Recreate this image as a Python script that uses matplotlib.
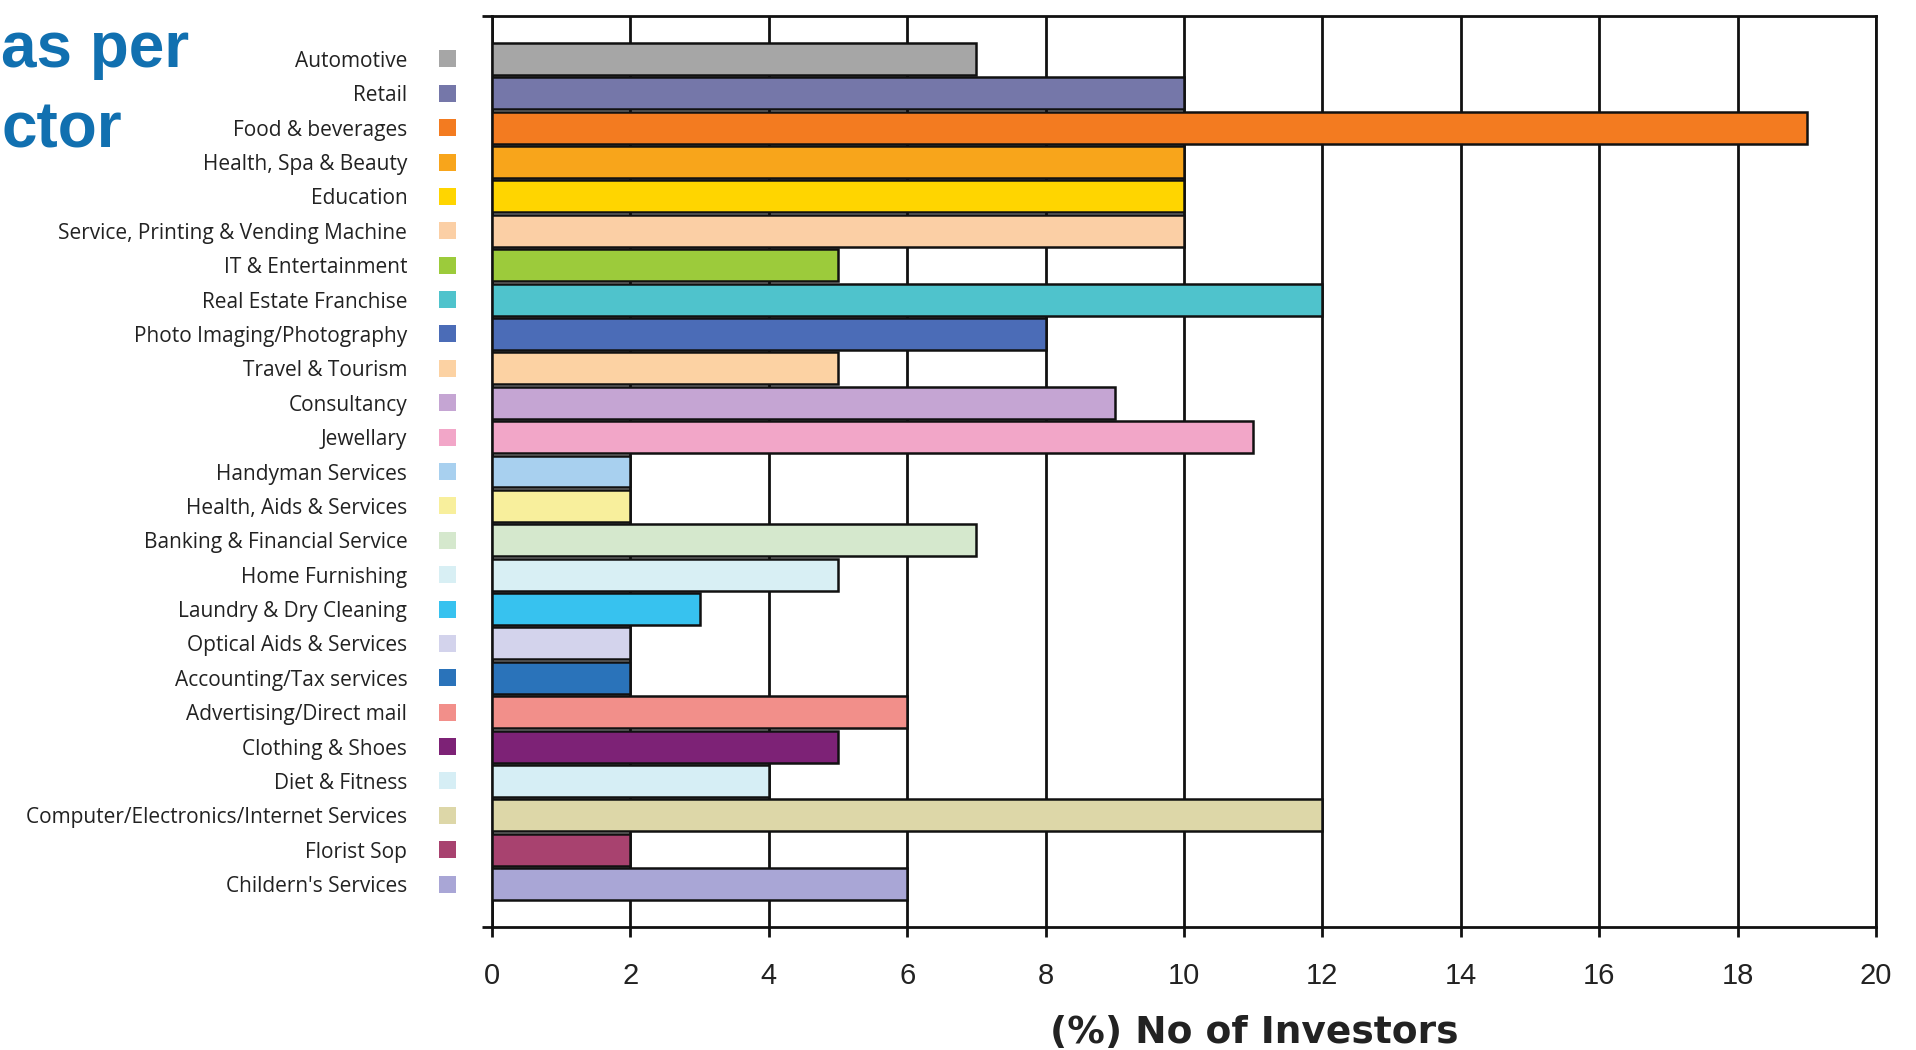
import numpy as np
import matplotlib
matplotlib.use('Agg')
import matplotlib.pyplot as plt

# sectors and share of investors (%)
sectors = ['Automotive', 'Retail', 'Food & beverages', 'Health, Spa & Beauty',
           'Education', 'Service, Printing & Vending Machine', 'IT & Entertainment',
           'Real Estate Franchise', 'Photo Imaging/Photography', 'Travel & Tourism',
           'Consultancy', 'Jewellary', 'Handyman Services', 'Health, Aids & Services',
           'Banking & Financial Service', 'Home Furnishing', 'Laundry & Dry Cleaning',
           'Optical Aids & Services', 'Accounting/Tax services', 'Advertising/Direct mail',
           'Clothing & Shoes', 'Diet & Fitness', 'Computer/Electronics/Internet Services',
           'Florist Sop', "Childern's Services"]
investors = [7, 10, 19, 10, 10, 10, 5, 12, 8, 5, 9, 11, 2, 2, 7, 5, 3, 2, 2, 6, 5, 4, 12, 2, 6]
colors = ['#a6a6a6', '#7577a9', '#f37b20', '#f8a51b', '#ffd500', '#fbcfa5', '#9ccb3b',
          '#4fc3cc', '#4b6cb7', '#fcd2a3', '#c5a5d3', '#f2a6c8', '#a8d0ef', '#f8ef9c',
          '#d5e8cd', '#d8eff4', '#37c2ef', '#d3d3ec', '#2a73ba', '#f28f8a', '#7d2276',
          '#d6eef5', '#ddd7a8', '#a8426f', '#a9a6d6']
xticks = list(range(0, 21, 2))

fig = plt.figure(figsize=(19.16, 10.5), dpi=100)
ax = fig.add_axes([0.2568, 0.1171, 0.7223, 0.8677])

y = np.arange(len(sectors))
ax.barh(y, investors, height=0.93, color=colors, edgecolor='#111111',
        linewidth=1.8, zorder=3)

ax.set_xlim(0, 20)
ax.set_ylim(len(sectors) + 0.25, -1.25)
ax.set_xticks(xticks)
ax.xaxis.grid(True, color='#111111', linewidth=2.0)
ax.set_axisbelow(True)
for s in ax.spines.values():
    s.set_linewidth(2.0)
    s.set_color('#111111')

# category names sit left of the colour keys
ax.set_yticks(y, sectors, fontsize=15, family=['Open Sans', 'DejaVu Sans'], color='#222222')
ax.tick_params(axis='y', which='major', length=0, pad=61)
ax.set_yticks([len(sectors) + 0.25, -1.25], minor=True)
ax.tick_params(axis='y', which='minor', length=7, width=2, color='#111111')

ax.scatter(np.full(len(sectors), -0.0325), y, s=150, marker='s', c=colors,
           linewidths=0, transform=ax.get_yaxis_transform(), clip_on=False)

ax.tick_params(axis='x', length=7, width=2, color='#111111', labelsize=21,
               pad=18, labelcolor='#222222')
for lab in ax.get_xticklabels():
    lab.set_family(['Liberation Sans', 'DejaVu Sans'])

ax.set_xlabel('(%) No of Investors', fontsize=27, fontweight='bold',
              family='DejaVu Sans', color='#222222')
ax.xaxis.set_label_coords(0.551, -0.096)

# heading in the top-left corner
title_kw = dict(ha='left', va='baseline', fontsize=46, fontweight='bold',
                color='#1170b0', family=['Liberation Sans', 'DejaVu Sans'])
fig.text(1 / 1916, 1 - 67 / 1050, 'as per', **title_kw)
fig.text(1 / 1916, 1 - 148 / 1050, 'ctor', **title_kw)

fig.savefig('out.png', dpi=100)
